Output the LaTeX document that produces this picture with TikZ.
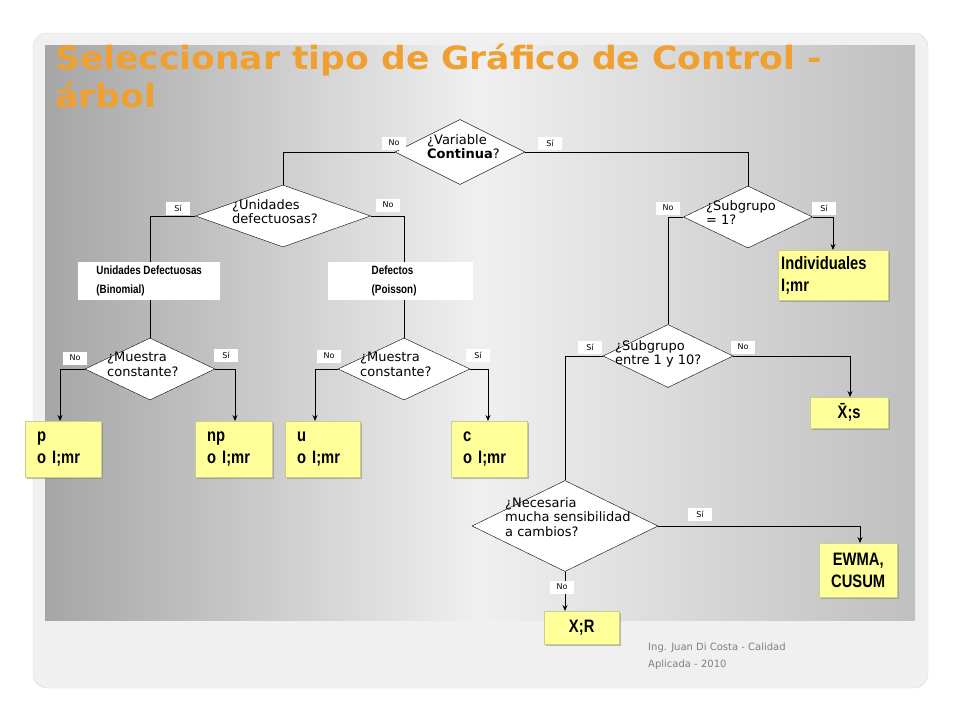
\documentclass[tikz,border=0pt]{standalone}
\usepackage{fontspec}
\setmainfont{DejaVu Sans}
\newfontfamily\boxfont[FakeStretch=0.82]{Liberation Sans}
\newfontfamily\ttlfont[FakeStretch=1.08]{DejaVu Sans}
\usetikzlibrary{shapes.geometric,arrows.meta,shadows}
\definecolor{ttl}{HTML}{F0A030}
\definecolor{yel}{HTML}{FFFF99}
\begin{document}
\begin{tikzpicture}[x=1pt,y=-1pt,
  dia/.style={draw=black,fill=white,shape=diamond,inner sep=0pt,aspect=2},
  dtext/.style={align=left,font=\fontsize{13}{14.5}\selectfont,inner sep=0pt,anchor=north west},
  lbl/.style={fill=white,font=\fontsize{8}{9}\selectfont,inner sep=1.5pt,minimum width=24pt,minimum height=13pt},
  res/.style={fill=yel,draw=yel!60!gray,drop shadow={shadow xshift=2pt,shadow yshift=-2pt,opacity=.5},font=\boxfont\bfseries\fontsize{18}{22}\selectfont,align=left,inner sep=0pt,inner xsep=12pt,anchor=north west,text width=#1,minimum height=56pt},
  cat/.style={fill=white,font=\boxfont\bfseries\fontsize{12}{19}\selectfont,align=left,anchor=north west,inner sep=1pt,minimum height=38pt},
  ln/.style={draw=black,line width=0.8pt},
  arr/.style={ln,-{Stealth[length=6pt,width=5pt]}}]
\useasboundingbox (0,0) rectangle (960,720);
\fill[white] (0,0) rectangle (960,720);
\fill[gray!12,rounded corners=14pt] (33,33) rectangle (928,688);
\draw[gray!30,rounded corners=14pt] (33,33) rectangle (928,688);
\shade[left color=gray!70,right color=gray!12] (45,45) rectangle (480,620);
\shade[left color=gray!12,right color=gray!50] (480,45) rectangle (915,620);
\node[anchor=north west,align=left,text=ttl,font=\ttlfont\bfseries\fontsize{32}{38}\selectfont,inner sep=0pt] (title) at (55,44) {Seleccionar tipo de Gráfico de Control -\\árbol};
\node[anchor=north west,align=left,text=gray,font=\fontsize{10}{17}\selectfont,inner sep=0pt] (foot) at (648,643) {Ing. Juan Di Costa - Calidad\\Aplicada - 2010};
% diamonds
\node[dia,minimum width=130pt,minimum height=65pt] (d1) at (460,152) {};
\node[dia,minimum width=175pt,minimum height=62pt] (d2) at (283,216) {};
\node[dia,minimum width=129pt,minimum height=62pt] (d3) at (748,217) {};
\node[dia,minimum width=130pt,minimum height=62pt] (d4) at (150,369) {};
\node[dia,minimum width=132pt,minimum height=62pt] (d5) at (404,369) {};
\node[dia,minimum width=130pt,minimum height=63pt] (d6) at (668,356) {};
\node[dia,minimum width=186pt,minimum height=91pt] (d7) at (565,526) {};
\node[dtext] (t1) at (427,134) {¿Variable\\\textbf{Continua}?};
\node[dtext] (t2) at (232,199) {¿Unidades\\defectuosas?};
\node[dtext] (t3) at (706,200) {¿Subgrupo\\= 1?};
\node[dtext] (t4) at (107,352) {¿Muestra\\constante?};
\node[dtext] (t5) at (360,352) {¿Muestra\\constante?};
\node[dtext] (t6) at (615,340) {¿Subgrupo\\entre 1 y 10?};
\node[dtext] (t7) at (505,497) {¿Necesaria\\mucha sensibilidad\\a cambios?};
% result boxes
\node[res=52pt] (bp) at (25,421) {p\\o I;mr};
\node[res=53pt] (bnp) at (195,421) {np\\o I;mr};
\node[res=51pt] (bu) at (285,421) {u\\o I;mr};
\node[res=52pt] (bc) at (451,421) {c\\o I;mr};
\node[res=104pt,inner xsep=3pt,minimum height=50pt] (bi) at (778,250) {Individuales\\I;mr};
\node[res=78pt,inner xsep=0pt,align=center,minimum height=31pt] (bxs) at (810,397) {X̄;s};
\node[res=72pt,inner xsep=3pt,align=center,minimum height=54pt] (be) at (819,543) {EWMA,\\CUSUM};
\node[res=75pt,inner xsep=0pt,align=center,minimum height=33pt] (bxr) at (544,611) {X;R};
% connectors
\coordinate (c1) at (283,152); \coordinate (c2) at (748,152);
\draw[ln] (d1.west) -- (c1) -- (d2.north);
\draw[ln] (d1.east) -- (c2) -- (d3.north);
\draw[ln] (d2.west) -| (d4.north);
\draw[ln] (d2.east) -| (d5.north);
\draw[arr] (d3.east) -| ([xshift=55pt]bi.north west);
\draw[ln] (d3.west) -| (d6.north);
\draw[arr] (d4.west) -| ([xshift=35pt]bp.north west);
\draw[arr] (d4.east) -| ([xshift=40pt]bnp.north west);
\draw[arr] (d5.west) -| ([xshift=30pt]bu.north west);
\draw[arr] (d5.east) -| ([xshift=37pt]bc.north west);
\draw[arr] (d6.east) -| ([xshift=40pt]bxs.north west);
\draw[ln] (d6.west) -| (d7.north);
\draw[arr] (d7.east) -| ([xshift=41pt]be.north west);
\draw[arr] (d7.south) -- ([xshift=21pt]bxr.north west);
% category boxes
\node[cat,minimum width=142pt] (k1) at (78,262) {Unidades Defectuosas\\(Binomial)};
\node[cat,minimum width=145pt,text width=140pt] (k2) at (328,262) {\hspace*{41pt}Defectos\\\hspace*{41pt}(Poisson)};
% labels
\node[lbl] (l1) at (394,143) {No};
\node[lbl] (l2) at (550,143) {Sí};
\node[lbl] (l3) at (178,208) {Sí};
\node[lbl] (l4) at (388,205) {No};
\node[lbl] (l5) at (668,208) {No};
\node[lbl] (l6) at (824,208) {Sí};
\node[lbl] (l7) at (75,358) {No};
\node[lbl] (l8) at (226,355) {Sí};
\node[lbl] (l9) at (329,356) {No};
\node[lbl] (l10) at (478,355) {Sí};
\node[lbl] (l11) at (590,347) {Sí};
\node[lbl] (l12) at (743,347) {No};
\node[lbl] (l13) at (700,514) {Sí};
\node[lbl] (l14) at (562,587) {No};
\end{tikzpicture}
\end{document}
